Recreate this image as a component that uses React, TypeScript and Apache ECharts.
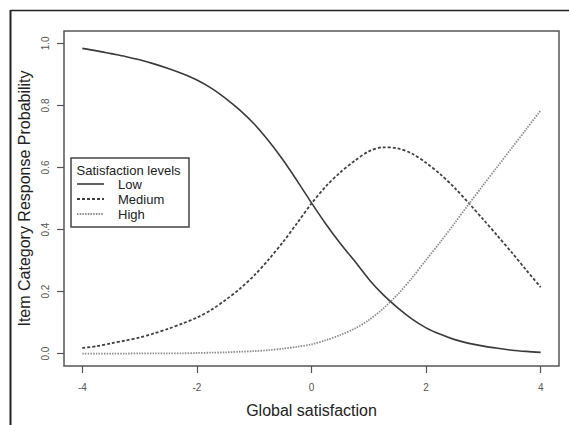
import React, { useEffect, useRef } from "react";
import * as echarts from "echarts";

const theta = [
  -4, -3.75, -3.5, -3.25, -3, -2.75, -2.5, -2.25, -2, -1.75, -1.5, -1.25, -1, -0.75, -0.5, -0.25,
  0, 0.25, 0.5, 0.75, 1, 1.25, 1.5, 1.75, 2, 2.25, 2.5, 2.75, 3, 3.25, 3.5, 3.75, 4,
];
const lowProb = [
  0.984, 0.976, 0.967, 0.958, 0.947, 0.934, 0.919, 0.902, 0.882, 0.856, 0.823, 0.785, 0.74, 0.686, 0.625, 0.557,
  0.486, 0.418, 0.356, 0.299, 0.24, 0.19, 0.148, 0.112, 0.083, 0.062, 0.045, 0.033, 0.024, 0.017, 0.011, 0.007, 0.004,
];
const mediumProb = [
  0.018, 0.024, 0.033, 0.042, 0.052, 0.065, 0.08, 0.097, 0.116, 0.141, 0.173, 0.209, 0.252, 0.303, 0.359, 0.421,
  0.484, 0.539, 0.584, 0.621, 0.652, 0.665, 0.662, 0.645, 0.615, 0.578, 0.534, 0.484, 0.432, 0.379, 0.325, 0.269, 0.214,
];
const highProb = [
  0.0, 0.0, 0.0, 0.0, 0.001, 0.001, 0.001, 0.001, 0.002, 0.003, 0.004, 0.006, 0.008, 0.011, 0.016, 0.022,
  0.03, 0.043, 0.06, 0.08, 0.108, 0.145, 0.19, 0.243, 0.302, 0.36, 0.421, 0.483, 0.544, 0.604, 0.664, 0.724, 0.784,
];
const seriesNames = ["Low", "Medium", "High"];
const xTicks = [-4, -2, 0, 2, 4];
const yTicks = [0, 0.2, 0.4, 0.6, 0.8, 1.0];

const styles = [
  { color: "#3a3a3a", type: "solid" as any, width: 1.6 },
  { color: "#404040", type: [3, 2] as any, width: 1.8 },
  { color: "#8c8c8c", type: [1.5, 1.2] as any, width: 1.8 },
];

export default function App() {
  const ref = useRef<HTMLDivElement>(null);
  useEffect(() => {
    if (!ref.current) return;
    const chart = echarts.init(ref.current, undefined, { renderer: "svg" });
    const datasets = [lowProb, mediumProb, highProb];
    const series = datasets.map((arr, i) => ({
      name: seriesNames[i],
      type: "line",
      data: theta.map((t, j) => [t, arr[j]]),
      showSymbol: false,
      symbol: "none",
      smooth: 0.3,
      lineStyle: styles[i],
      z: 3,
    }));

    const labelFont = "'Liberation Sans', Arial, sans-serif";

    const legendItems: any[] = [];
    seriesNames.forEach((n, i) => {
      const y = 184 + i * 15;
      legendItems.push({
        type: "line",
        shape: { x1: 77, y1: y, x2: 104, y2: y },
        style: { stroke: styles[i].color, lineWidth: styles[i].width, lineDash: i === 0 ? null : styles[i].type },
        z: 101,
      });
      legendItems.push({
        type: "text",
        x: 118,
        y: y,
        style: { text: n, font: "13px " + labelFont, fill: "#222", verticalAlign: "middle" },
        z: 101,
      });
    });

    chart.setOption({
      animation: false,
      backgroundColor: "#ffffff",
      grid: {
        left: 64,
        top: 31,
        width: 495,
        height: 335,
        show: true,
        borderColor: "#555",
        borderWidth: 1.5,
        backgroundColor: "transparent",
      },
      xAxis: {
        type: "value",
        min: -4.32,
        max: 4.32,
        name: "Global satisfaction",
        nameLocation: "middle",
        nameGap: 36,
        nameTextStyle: { fontSize: 16, color: "#222", fontFamily: labelFont },
        axisLine: { show: false, onZero: false },
        splitLine: { show: false },
        axisTick: { show: true, length: 7, customValues: xTicks, lineStyle: { color: "#555", width: 1.2 } },
        axisLabel: {
          customValues: xTicks,
          margin: 16,
          fontSize: 10,
          color: "#555",
          fontFamily: labelFont,
          formatter: (v: number) => String(v),
        },
      },
      yAxis: {
        type: "value",
        min: -0.04,
        max: 1.04,
        name: "Item Category Response Probability",
        nameLocation: "middle",
        nameGap: 28,
        nameTextStyle: { fontSize: 16, color: "#222", fontFamily: labelFont },
        axisLine: { show: false, onZero: false },
        splitLine: { show: false },
        axisTick: { show: true, length: 7, customValues: yTicks, lineStyle: { color: "#555", width: 1.2 } },
        axisLabel: {
          customValues: yTicks,
          rotate: 90,
          margin: 14,
          fontSize: 10,
          color: "#555",
          fontFamily: labelFont,
          formatter: (v: number) => v.toFixed(1),
        },
      },
      series,
      graphic: [
        { type: "line", shape: { x1: 10.5, y1: 10.5, x2: 569, y2: 10.5 }, style: { stroke: "#222", lineWidth: 1.5 }, z: 100 },
        { type: "line", shape: { x1: 10.5, y1: 10, x2: 10.5, y2: 425 }, style: { stroke: "#222", lineWidth: 2 }, z: 100 },
        {
          type: "rect",
          shape: { x: 71, y: 158, width: 118, height: 69 },
          style: { fill: "#fff", stroke: "#444", lineWidth: 1.5 },
          z: 100,
        },
        {
          type: "text",
          x: 76.5,
          y: 170,
          style: { text: "Satisfaction levels", font: "13px " + labelFont, fill: "#222", verticalAlign: "middle" },
          z: 101,
        },
        ...legendItems,
      ],
    });
    return () => chart.dispose();
  }, []);
  return (
    <div
      ref={ref}
      style={{ position: "fixed", left: 0, top: 0, width: 569, height: 425, background: "#fff" }}
    />
  );
}
